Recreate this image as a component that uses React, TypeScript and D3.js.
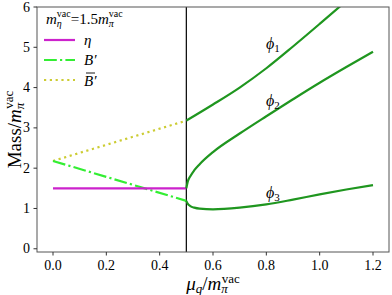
import React from "react";
import * as d3 from "d3";

// values (x = mu_q / m_pi^vac, y = mass / m_pi^vac)
const xTicks = [0.0, 0.2, 0.4, 0.6, 0.8, 1.0, 1.2];
const yTicks = [0, 1, 2, 3, 4, 5, 6];

const etaX = [0.0, 0.5];
const etaY = [1.5, 1.5];
const bX = [0.0, 0.5];
const bY = [2.18, 1.19];
const bBarX = [0.0, 0.5];
const bBarY = [2.18, 3.18];

const phi1X = [0.5, 0.6, 0.7, 0.8, 0.9, 1.0, 1.1];
const phi1Y = [3.18, 3.58, 4.0, 4.48, 5.02, 5.58, 6.15];
const phi2X = [0.5, 0.505, 0.515, 0.53, 0.55, 0.6, 0.7, 0.8, 0.9, 1.0, 1.1, 1.2];
const phi2Y = [1.5, 1.66, 1.8, 1.95, 2.1, 2.4, 2.86, 3.29, 3.71, 4.12, 4.51, 4.89];
const phi3X = [0.5, 0.505, 0.515, 0.53, 0.55, 0.6, 0.7, 0.8, 0.9, 1.0, 1.1, 1.2];
const phi3Y = [1.19, 1.12, 1.06, 1.02, 0.995, 0.98, 1.02, 1.1, 1.22, 1.35, 1.47, 1.58];

const W = 392;
const H = 295;
const left = 37;
const right = 389;
const top = 7;
const bottom = 252;

const serif = "Liberation Serif";

export default function App() {
  const x = d3.scaleLinear().domain([-0.06, 1.26]).range([left, right]);
  const y = d3.scaleLinear().domain([-0.08, 6]).range([bottom, top]);

  const line = d3
    .line<[number, number]>()
    .x((d) => x(d[0]))
    .y((d) => y(d[1]))
    .curve(d3.curveMonotoneX);

  const pts = (xs: number[], ys: number[]) =>
    xs.map((v, i) => [v, ys[i]] as [number, number]);

  const green = "#1f961f";

  return (
    <svg width={W} height={H} style={{ position: "absolute", left: 0, top: 0 }}>
      <defs>
        <clipPath id="plotArea">
          <rect x={left} y={top} width={right - left} height={bottom - top} />
        </clipPath>
      </defs>
      <rect x={0} y={0} width={W} height={H} fill="#fff" />

      <g clipPath="url(#plotArea)" fill="none">
        <line x1={x(0.5)} x2={x(0.5)} y1={top} y2={bottom} stroke="#000" strokeWidth={1.2} />
        <path d={line(pts(bBarX, bBarY)) || ""} stroke="#cccc33" strokeWidth={2.2} strokeDasharray="2.2,3.6" />
        <path d={line(pts(bX, bY)) || ""} stroke="#33ee33" strokeWidth={2.2} strokeDasharray="12.8,3.2,2.2,3.2" />
        <path d={line(pts(etaX, etaY)) || ""} stroke="#cc22cc" strokeWidth={2.2} />
        <path d={line(pts(phi1X, phi1Y)) || ""} stroke={green} strokeWidth={2.2} />
        <path d={line(pts(phi2X, phi2Y)) || ""} stroke={green} strokeWidth={2.2} />
        <path d={line(pts(phi3X, phi3Y)) || ""} stroke={green} strokeWidth={2.2} />
      </g>

      <rect x={left} y={top} width={right - left} height={bottom - top} fill="none" stroke="#555" strokeWidth={1} />

      {xTicks.map((t) => (
        <g key={"x" + t}>
          <line x1={x(t)} x2={x(t)} y1={bottom} y2={bottom + 3.5} stroke="#333" />
          <text x={x(t)} y={bottom + 18} textAnchor="middle" fontFamily={serif} fontSize={14}>
            {t.toFixed(1)}
          </text>
        </g>
      ))}
      {yTicks.map((t) => (
        <g key={"y" + t}>
          <line x1={left} x2={left - 3.5} y1={y(t)} y2={y(t)} stroke="#333" />
          <text x={left - 7} y={y(t) + 4.5} textAnchor="end" fontFamily={serif} fontSize={14}>
            {t}
          </text>
        </g>
      ))}

      {/* axis labels */}
      <text x={213} y={290} fontFamily={serif} fontSize={19} textAnchor="middle">
        <tspan fontStyle="italic">μ</tspan>
        <tspan fontStyle="italic" fontSize={13} dy={3}>q</tspan>
        <tspan dy={-3}>/</tspan>
        <tspan fontStyle="italic">m</tspan>
        <tspan fontStyle="italic" fontSize={13} dy={3}>π</tspan>
        <tspan fontSize={13} dx={-6} dy={-10}>vac</tspan>
      </text>
      <text
        transform={`translate(21,${(top + bottom) / 2}) rotate(-90)`}
        fontFamily={serif}
        fontSize={19}
        textAnchor="middle"
      >
        <tspan>Mass/</tspan>
        <tspan fontStyle="italic">m</tspan>
        <tspan fontStyle="italic" fontSize={13} dy={3}>π</tspan>
        <tspan fontSize={13} dx={-6} dy={-11}>vac</tspan>
      </text>

      {/* curve labels */}
      <g fontFamily={serif} fontSize={16} fontStyle="italic">
        <text x={266} y={49}>
          ϕ<tspan fontSize={11} fontStyle="normal" dy={3}>1</tspan>
        </text>
        <text x={266} y={106}>
          ϕ<tspan fontSize={11} fontStyle="normal" dy={3}>2</tspan>
        </text>
        <text x={266} y={198}>
          ϕ<tspan fontSize={11} fontStyle="normal" dy={3}>3</tspan>
        </text>
      </g>

      {/* legend */}
      <g fontFamily={serif} fontSize={15}>
        <text x={46} y={24}>
          <tspan fontStyle="italic">m</tspan>
          <tspan fontStyle="italic" fontSize={10} dy={3}>η</tspan>
          <tspan fontSize={10} dx={-5} dy={-10}>vac</tspan>
          <tspan dy={7}>=1.5</tspan>
          <tspan fontStyle="italic">m</tspan>
          <tspan fontStyle="italic" fontSize={10} dy={3}>π</tspan>
          <tspan fontSize={10} dx={-5} dy={-10}>vac</tspan>
        </text>
        <line x1={44} x2={75} y1={40} y2={40} stroke="#cc22cc" strokeWidth={2.2} />
        <line x1={44} x2={75} y1={60} y2={60} stroke="#33ee33" strokeWidth={2.2} strokeDasharray="12.8,3.2,2.2,3.2" />
        <line x1={44} x2={75} y1={80} y2={80} stroke="#cccc33" strokeWidth={2.2} strokeDasharray="2.2,3.6" />
        <text x={84} y={45} fontStyle="italic">η</text>
        <text x={84} y={65} fontStyle="italic">B′</text>
        <text x={84} y={86} fontStyle="italic">B′</text>
        <line x1={86} x2={95} y1={73} y2={73} stroke="#000" strokeWidth={0.9} />
      </g>
    </svg>
  );
}
